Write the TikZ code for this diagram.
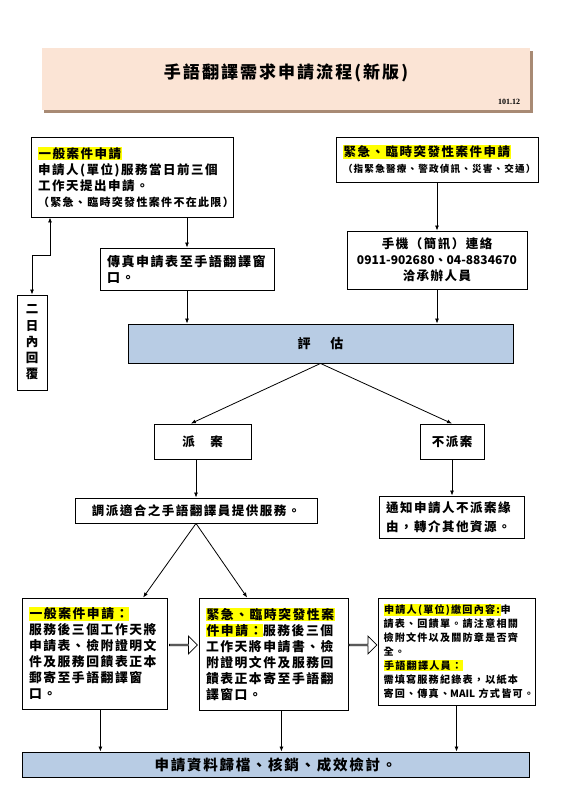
\documentclass[tikz,border=0pt]{standalone}
\usepackage{fontspec}
\setmainfont{Noto Sans CJK TC}[LetterSpace=12]
\newfontfamily\digitfont{Noto Sans CJK TC}
\newfontfamily\datefont{Liberation Serif}
\usetikzlibrary{arrows.meta,shapes.arrows}
\definecolor{banner}{HTML}{FBE4D5}
\definecolor{bannershade}{HTML}{A88A74}
\definecolor{evalblue}{HTML}{B8CCE4}
\definecolor{marker}{HTML}{FFFF00}
\newcommand\hilite[1]{{\setlength{\fboxsep}{0.6pt}\colorbox{marker}{#1}}}
\tikzset{
  box/.style={draw, line width=0.9pt, fill=white, inner xsep=7pt, inner ysep=0pt, align=left, font=\fontsize{12.5}{16}\selectfont},
  smallbox/.style={box, inner xsep=5.5pt, font=\fontsize{10.1}{14}\selectfont},
  centerbox/.style={box, align=center},
  evalbox/.style={draw, line width=0.9pt, fill=evalblue, inner sep=0pt, font=\fontsize{13}{16}\selectfont},
  link/.style={line width=0.8pt, -{Latex[length=5pt,width=4pt]}},
  hollow/.style={draw, line width=0.8pt, fill=white, single arrow, single arrow head extend=4pt, minimum width=18pt, minimum height=28pt, inner sep=0pt}
}
\begin{document}
\bfseries
\begin{tikzpicture}[x=1pt, y=-1pt]
\useasboundingbox (0,0) rectangle (565,800);
\fill[bannershade] (44,51) rectangle (533,113);
\node[fill=banner, minimum width=488pt, minimum height=62pt, inner sep=0pt] (banner) at (286,79) {};
\node[font=\fontsize{17}{19}\selectfont] (title) at (286,73) {手語翻譯需求申請流程(新版)};
\node[font=\datefont\fontsize{8}{9}\selectfont] (date) at (509,102) {101.12};

\node[box, text width=188pt, minimum height=80pt] (gen) at (132,177) {\hilite{一般案件申請}\\申請人(單位)服務當日前三個\\工作天提出申請。\\{\fontsize{11}{17}\selectfont（緊急、臨時突發性案件不在此限）}};
\node[box, text width=188pt, minimum height=45pt] (urg) at (437,159.5) {\hilite{緊急、臨時突發性案件申請}\\{\fontsize{9.6}{15}\selectfont（指緊急醫療、警政偵訊、災害、交通）}};
\node[centerbox, text width=16pt, minimum height=95pt, font=\fontsize{12.5}{16.25}\selectfont] (reply) at (32,342.5) {二\\日\\內\\回\\覆};
\node[box, text width=160pt, minimum height=42pt, font=\fontsize{13}{16}\selectfont] (fax) at (187,269) {傳真申請表至手語翻譯窗\\口。};
\node[centerbox, text width=166pt, minimum height=58pt] (phone) at (437,260) {手機（簡訊）連絡\\\mbox{\digitfont\fontsize{12}{16}\selectfont 0911-902680、04-8834670}\\洽承辦人員};
\node[evalbox, minimum width=385pt, minimum height=39pt] (eval) at (320.5,343.5) {評\hspace{20pt}估};
\node[centerbox, inner xsep=0pt, minimum width=97pt, minimum height=35pt] (dispatch) at (202.5,441.5) {派　案};
\node[centerbox, inner xsep=0pt, minimum width=64pt, minimum height=35pt] (nodisp) at (452,441.5) {不派案};
\node[centerbox, inner xsep=0pt, minimum width=242pt, minimum height=25pt] (assign) at (196,510.5) {調派適合之手語翻譯員提供服務。};
\node[box, text width=131pt, minimum height=42pt, font=\fontsize{12.5}{19}\selectfont] (notify) at (451.5,517) {通知申請人不派案緣\\由，轉介其他資源。};
\node[box, text width=131pt, minimum height=111pt, font=\fontsize{12.8}{16}\selectfont] (genret) at (94.5,653.5) {\hilite{一般案件申請：}\\服務後三個工作天將\\申請表、檢附證明文\\件及服務回饋表正本\\郵寄至手語翻譯窗\\口。};
\node[box, text width=135pt, minimum height=112pt, font=\fontsize{12.8}{16}\selectfont] (urgret) at (273.5,654) {\hilite{緊急、臨時突發性案}\\\hilite{件申請：}服務後三個\\工作天將申請書、檢\\附證明文件及服務回\\饋表正本寄至手語翻\\譯窗口。};
\node[smallbox, text width=146pt, minimum height=107pt] (fillbox) at (456.5,651.5) {\hilite{申請人(單位)繳回內容:}申\\請表、回饋單。請注意相關\\檢附文件以及關防章是否齊\\全。\\\hilite{手語翻譯人員：}\\需填寫服務紀錄表，以紙本\\\mbox{寄回、傳真、{\digitfont MAIL} 方式皆可。}};
\node[evalbox, minimum width=507pt, minimum height=25pt, font=\fontsize{14.5}{16}\selectfont] (archive) at (275.5,764.5) {申請資料歸檔、核銷、成效檢討。};
\node[hollow] (shift1) at (183,645) {};
\node[hollow] (shift2) at (362.5,645) {};

\coordinate (bend) at (50,255);
\draw[line width=0.8pt, {Latex[length=5pt,width=4pt]}-{Latex[length=5pt,width=4pt]}] (gen.south -| bend) -- (bend) -| (reply.north);
\draw[link] (gen.south -| fax.north) -- (fax.north);
\draw[link] (fax.south) -- (fax.south |- eval.north);
\draw[link] (urg.south) -- (urg.south |- phone.north);
\draw[link] (phone.south) -- (phone.south |- eval.north);
\draw[link] (eval.south) -- (dispatch.123);
\draw[link] (eval.south) -- (nodisp.north);
\draw[link] (assign.north |- dispatch.south) -- (assign.north);
\draw[link] (nodisp.south) -- (nodisp.south |- notify.north);
\draw[link] (assign.south) -- (genret.49);
\draw[link] (assign.south) -- (urgret.115);
\draw[link] (genret.-84) -- (genret.-84 |- archive.north);
\draw[link] (urgret.-82) -- (urgret.-82 |- archive.north);
\draw[link] (fillbox.south) -- (fillbox.south |- archive.north);
\end{tikzpicture}
\end{document}
